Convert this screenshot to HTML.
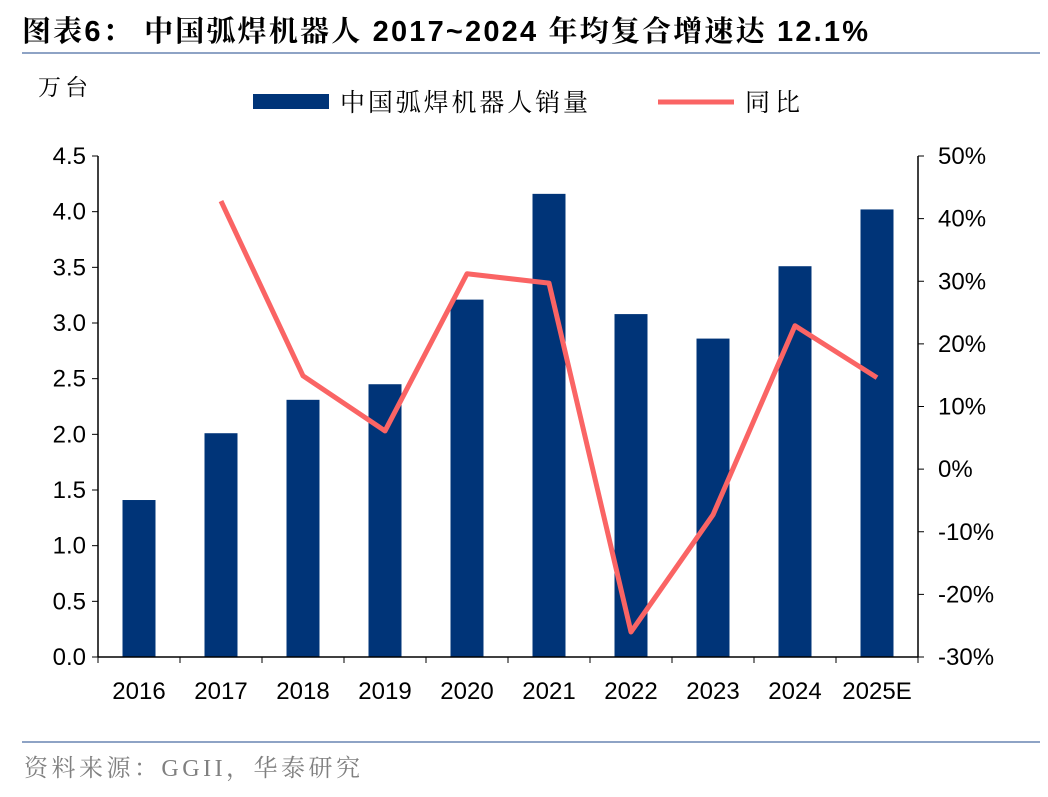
<!DOCTYPE html>
<html><head><meta charset="utf-8"><style>
body{margin:0;background:#fff;width:1048px;height:792px;overflow:hidden;font-family:"Liberation Sans","Noto Sans CJK SC",sans-serif}
</style></head><body>
<svg width="1048" height="792" xmlns="http://www.w3.org/2000/svg" font-family="Liberation Sans, Noto Sans CJK SC, sans-serif">
<text x="22" y="41" font-size="29" font-weight="bold" fill="#000" font-family="Liberation Sans, Noto Serif CJK SC, serif" textLength="846" lengthAdjust="spacing">图表6：  中国弧焊机器人 2017~2024 年均复合增速达 12.1%</text>
<line x1="22" y1="53" x2="1040" y2="53" stroke="#8ea3c5" stroke-width="2"/>
<text x="38" y="95" font-size="23" fill="#000" font-family="Liberation Serif, Noto Serif CJK SC, serif" textLength="50">万台</text>
<g>
<rect x="253" y="94" width="76" height="15" fill="#003478"/>
<text x="340" y="111" font-size="25" font-family="Liberation Serif, Noto Serif CJK SC, serif" textLength="248">中国弧焊机器人销量</text>
<line x1="658" y1="102" x2="734" y2="102" stroke="#fa6464" stroke-width="5"/>
<text x="745" y="111" font-size="25" font-family="Liberation Serif, Noto Serif CJK SC, serif" textLength="55">同比</text>
</g>
<g id="plot"></g>
<line x1="22" y1="742" x2="1040" y2="742" stroke="#8ea3c5" stroke-width="2"/>
<text x="24" y="776" font-size="24" fill="#808080" font-family="Liberation Serif, Noto Serif CJK SC, serif" textLength="336">资料来源：GGII，华泰研究</text>
</svg>
<script>
const categories=["2016","2017","2018","2019","2020","2021","2022","2023","2024","2025E"];
const sales=[1.41,2.01,2.31,2.45,3.21,4.16,3.08,2.86,3.51,4.02];
const yoy=[null,42.8,14.9,6.1,31.2,29.7,-26.0,-7.3,22.9,14.6];
const leftTicks=["0.0","0.5","1.0","1.5","2.0","2.5","3.0","3.5","4.0","4.5"];
const rightTicks=["-30%","-20%","-10%","0%","10%","20%","30%","40%","50%"];
const NS="http://www.w3.org/2000/svg";
const g=document.getElementById('plot');
const X0=98,X1=918,Y0=657,Y1=156;
const band=(X1-X0)/categories.length;
const xc=i=>X0+band*(i+0.5);
const yL=v=>Y0-(v/4.5)*(Y0-Y1);
const yR=v=>Y0-((v+30)/80)*(Y0-Y1);
function el(t,a){const e=document.createElementNS(NS,t);for(const k in a)e.setAttribute(k,a[k]);g.appendChild(e);return e;}
sales.forEach((v,i)=>{const r=el('rect',{x:xc(i)-16.5,y:yL(v),width:33,height:Y0-yL(v),fill:'#003478'});

});
let pts=[];yoy.forEach((v,i)=>{if(v!==null)pts.push(xc(i)+','+yR(v));});
const pl=el('polyline',{points:pts.join(' '),fill:'none',stroke:'#fa6464','stroke-width':5,'stroke-linejoin':'round'});


const axc='#000';
const la=el('line',{x1:X0,y1:Y1,x2:X0,y2:Y0,stroke:axc,'stroke-width':1.5});


const ra=el('line',{x1:X1,y1:Y1,x2:X1,y2:Y0,stroke:axc,'stroke-width':1.5});


const xa=el('line',{x1:X0,y1:Y0,x2:X1,y2:Y0,stroke:axc,'stroke-width':1.5});


leftTicks.forEach((t,i)=>{const y=yL(parseFloat(t));el('line',{x1:X0-6,y1:y,x2:X0,y2:y,stroke:axc});
const tx=el('text',{x:X0-12,y:y+8,'font-size':24,'text-anchor':'end'});tx.textContent=t;

});
rightTicks.forEach((t,i)=>{const y=yR(parseFloat(t));el('line',{x1:X1,y1:y,x2:X1+6,y2:y,stroke:axc});
const tx=el('text',{x:X1+20,y:y+8,'font-size':24});tx.textContent=t;

});
for(let i=0;i<=categories.length;i++){el('line',{x1:X0+band*i,y1:Y0,x2:X0+band*i,y2:Y0+6,stroke:axc});}
categories.forEach((c,i)=>{const tx=el('text',{x:xc(i),y:699,'font-size':24,'text-anchor':'middle'});tx.textContent=c;

});
</script>
</body></html>
